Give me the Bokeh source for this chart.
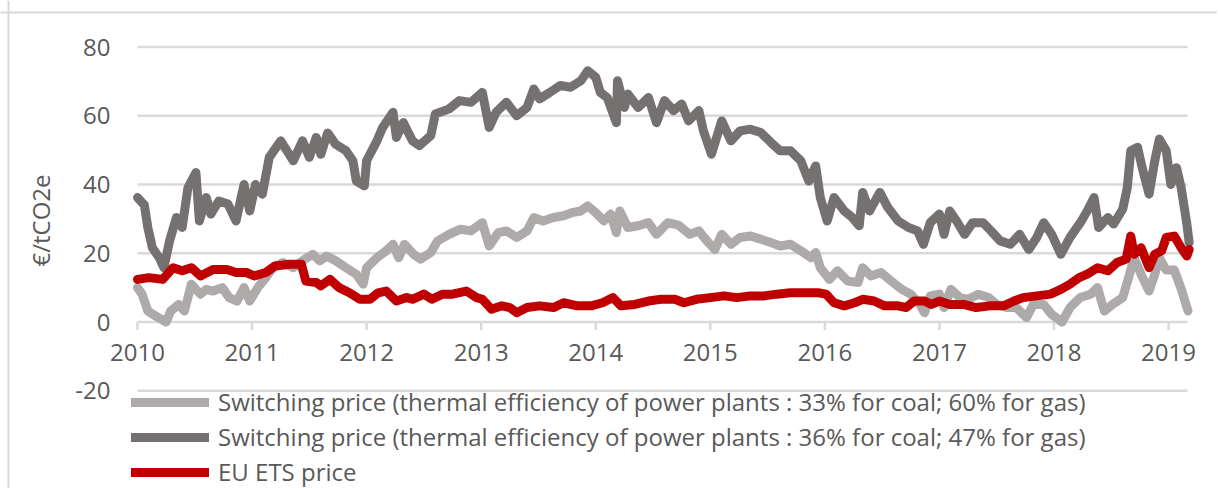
import math
from bokeh.plotting import figure
from bokeh.models import ColumnDataSource, Span, Legend, LegendItem, Range1d
from bokeh.core.properties import value
from bokeh.embed import file_html
from bokeh.resources import INLINE

# ---------------- data ----------------
light_x = [2010.00, 2010.04, 2010.09, 2010.16, 2010.25, 2010.29, 2010.36, 2010.41, 2010.47, 2010.51,
           2010.55, 2010.60, 2010.66, 2010.74, 2010.80, 2010.87, 2010.93, 2010.98, 2011.05, 2011.12,
           2011.18, 2011.27, 2011.36, 2011.44, 2011.53, 2011.59, 2011.65, 2011.73, 2011.82, 2011.91,
           2011.97, 2012.00, 2012.09, 2012.17, 2012.23, 2012.28, 2012.33, 2012.41, 2012.47, 2012.56,
           2012.62, 2012.72, 2012.82, 2012.91, 2013.01, 2013.07, 2013.15, 2013.22, 2013.31, 2013.40,
           2013.46, 2013.54, 2013.63, 2013.72, 2013.79, 2013.87, 2013.93, 2014.00, 2014.07, 2014.13,
           2014.18, 2014.21, 2014.28, 2014.37, 2014.46, 2014.53, 2014.63, 2014.72, 2014.82, 2014.90,
           2014.97, 2015.04, 2015.10, 2015.18, 2015.26, 2015.35, 2015.44, 2015.53, 2015.61, 2015.70,
           2015.79, 2015.88, 2015.92, 2015.96, 2016.04, 2016.11, 2016.20, 2016.29, 2016.33, 2016.40,
           2016.49, 2016.58, 2016.67, 2016.75, 2016.83, 2016.87, 2016.92, 2017.00, 2017.04, 2017.10,
           2017.18, 2017.25, 2017.34, 2017.43, 2017.50, 2017.59, 2017.67, 2017.76, 2017.82, 2017.91,
           2017.98, 2018.07, 2018.14, 2018.23, 2018.32, 2018.38, 2018.44, 2018.51, 2018.60, 2018.66,
           2018.70, 2018.76, 2018.83, 2018.88, 2018.92, 2018.98, 2019.05, 2019.11, 2019.17]
light_y = [10, 8.1, 3.2, 1.7, 0, 3.2, 5.1, 3.2, 11, 9.5,
           8.1, 9.5, 9, 10, 7.1, 6.1, 10, 6.1, 10, 12.9,
           15.8, 17.3, 15.8, 17.8, 19.7, 17.8, 19.2, 17.8, 15.8, 13.9,
           11, 15.8, 18.7, 20.7, 22.6, 18.7, 22.6, 19.7, 18.3, 20.2,
           23.6, 25.5, 27, 26.5, 28.9, 22.1, 26, 26.5, 24.6, 26.5,
           30.4, 29.4, 30.4, 30.9, 31.8, 32.3, 33.8, 31.8, 29.4, 31.4,
           26, 32.3, 27.5, 28, 28.9, 25.5, 28.9, 28.2, 25.5, 26.5,
           23.6, 21.1, 25.5, 22.6, 24.6, 25, 24.1, 23.1, 22.1, 22.6,
           20.7, 18.7, 20.2, 15.8, 12.4, 14.9, 11.9, 11.5, 15.8, 13.4,
           14.4, 11.9, 9.5, 8.1, 5.1, 2.7, 7.6, 8.1, 4.2, 9.5,
           7.1, 6.6, 8.1, 7.1, 5.1, 4.2, 4.2, 1.3, 5.1, 5.1,
           2.2, 0, 4.2, 7.1, 8.1, 10, 3.2, 5.1, 7.1, 13.9,
           18.7, 13.9, 9, 13.9, 18.7, 15.1, 15.1, 9.7, 3.2]

dark_x = [2010.00, 2010.06, 2010.09, 2010.13, 2010.19, 2010.23, 2010.28, 2010.34, 2010.39, 2010.44,
          2010.51, 2010.54, 2010.60, 2010.64, 2010.71, 2010.79, 2010.86, 2010.93, 2010.98, 2011.03,
          2011.09, 2011.15, 2011.25, 2011.36, 2011.44, 2011.50, 2011.56, 2011.60, 2011.66, 2011.73,
          2011.82, 2011.88, 2011.91, 2011.98, 2012.00, 2012.09, 2012.14, 2012.23, 2012.26, 2012.32,
          2012.40, 2012.46, 2012.56, 2012.60, 2012.72, 2012.81, 2012.91, 2013.01, 2013.07, 2013.13,
          2013.22, 2013.31, 2013.40, 2013.46, 2013.51, 2013.60, 2013.69, 2013.78, 2013.87, 2013.93,
          2014.00, 2014.04, 2014.10, 2014.18, 2014.19, 2014.25, 2014.28, 2014.37, 2014.46, 2014.53,
          2014.60, 2014.68, 2014.75, 2014.81, 2014.90, 2014.94, 2015.01, 2015.10, 2015.18, 2015.26,
          2015.35, 2015.44, 2015.53, 2015.61, 2015.70, 2015.79, 2015.86, 2015.92, 2015.96, 2016.02,
          2016.08, 2016.17, 2016.24, 2016.30, 2016.33, 2016.39, 2016.48, 2016.55, 2016.64, 2016.73,
          2016.81, 2016.86, 2016.92, 2017.00, 2017.04, 2017.09, 2017.15, 2017.22, 2017.29, 2017.38,
          2017.45, 2017.53, 2017.62, 2017.70, 2017.78, 2017.85, 2017.91, 2017.98, 2018.06, 2018.14,
          2018.23, 2018.29, 2018.35, 2018.39, 2018.47, 2018.52, 2018.60, 2018.64, 2018.67, 2018.73,
          2018.77, 2018.83, 2018.88, 2018.92, 2018.98, 2019.02, 2019.07, 2019.11, 2019.16, 2019.18]
dark_y = [36.2, 34, 27.5, 21.6, 18.7, 15.8, 23.6, 30.4, 27.5, 39,
          43.5, 29.4, 36.2, 31.4, 35.2, 34.3, 29.4, 40, 32.3, 40,
          37.2, 47.9, 52.7, 46.9, 52.7, 47.9, 53.7, 48.8, 55, 51.7,
          49.8, 46.9, 41, 39.6, 46.9, 52.7, 56.6, 61, 53.7, 58,
          52.7, 51.3, 54.2, 60.5, 62, 64.4, 63.9, 66.8, 56.6, 61,
          63.9, 60, 62.4, 67.8, 64.9, 66.8, 68.8, 68.3, 70.2, 73.1,
          71.2, 66.8, 65.3, 58, 70.2, 62.4, 66.3, 62.4, 65.3, 58,
          64.4, 61.5, 63.4, 58.5, 61.5, 55.6, 48.8, 58.5, 52.7, 55.6,
          56.1, 55.1, 52.2, 49.8, 49.8, 46.9, 41, 45.4, 36.2, 29.4,
          36.2, 32.3, 30.4, 28, 37.7, 32.3, 37.7, 33.3, 29.4, 27.5,
          26.5, 22.6, 28.9, 31.4, 25.5, 32.3, 29.4, 25.5, 28.9, 28.9,
          26.5, 23.6, 22.6, 25.5, 21.1, 24.6, 28.9, 25.5, 19.7, 24.6,
          28.9, 32.3, 36.2, 27.5, 30.4, 28.5, 32.8, 39.1, 49.8, 50.8,
          44.9, 37.2, 46.9, 53.2, 49.8, 40, 44.9, 39.1, 28.5, 23.1]

ets_x = [2010.00, 2010.10, 2010.22, 2010.31, 2010.39, 2010.47, 2010.55, 2010.66, 2010.78, 2010.86,
         2010.95, 2011.02, 2011.12, 2011.20, 2011.33, 2011.43, 2011.47, 2011.56, 2011.60, 2011.68,
         2011.76, 2011.85, 2011.94, 2012.03, 2012.10, 2012.17, 2012.26, 2012.35, 2012.40, 2012.50,
         2012.57, 2012.66, 2012.75, 2012.87, 2012.96, 2013.01, 2013.09, 2013.18, 2013.25, 2013.31,
         2013.40, 2013.51, 2013.63, 2013.72, 2013.84, 2013.96, 2014.06, 2014.15, 2014.22, 2014.34,
         2014.46, 2014.57, 2014.69, 2014.77, 2014.88, 2015.00, 2015.12, 2015.23, 2015.35, 2015.47,
         2015.58, 2015.70, 2015.82, 2015.94, 2016.01, 2016.08, 2016.17, 2016.26, 2016.33, 2016.43,
         2016.52, 2016.64, 2016.71, 2016.78, 2016.87, 2016.93, 2017.00, 2017.09, 2017.21, 2017.32,
         2017.44, 2017.56, 2017.65, 2017.73, 2017.85, 2017.97, 2018.06, 2018.14, 2018.22, 2018.29,
         2018.38, 2018.47, 2018.55, 2018.63, 2018.67, 2018.70, 2018.76, 2018.83, 2018.88, 2018.94,
         2018.98, 2019.05, 2019.11, 2019.16, 2019.18]
ets_y = [12.4, 12.9, 12.4, 15.8, 14.9, 15.8, 13.4, 15.3, 15.3, 14.4,
         14.4, 13.4, 14.4, 16.3, 16.8, 16.8, 11.9, 11.5, 10.5, 12.4,
         10, 8.5, 6.6, 6.6, 8.5, 9, 6.1, 7.1, 6.6, 8.1,
         6.6, 8.1, 8.1, 9, 7.1, 6.6, 3.7, 4.7, 4.2, 2.7,
         4.2, 4.7, 4.2, 5.6, 4.7, 4.7, 5.6, 7.1, 4.7, 5.1,
         6.1, 6.6, 6.6, 5.6, 6.6, 7.1, 7.6, 7.1, 7.6, 7.6,
         8.1, 8.5, 8.5, 8.5, 8.1, 5.6, 4.7, 5.6, 6.6, 6.1,
         4.7, 4.7, 4.2, 6.1, 6.1, 5.1, 6.1, 5.1, 5.1, 4.2,
         4.7, 4.7, 6.1, 7.1, 7.6, 8.1, 9.5, 11, 12.9, 13.9,
         15.8, 14.9, 17.3, 18.3, 25, 19.7, 21.6, 15.8, 19.7, 20.7,
         24.6, 25, 21.6, 19.2, 21.1]

year_ticks = [2010, 2011, 2012, 2013, 2014, 2015, 2016, 2017, 2018, 2019]
year_labels = ["2010", "2011", "2012", "2013", "2014", "2015", "2016", "2017", "2018", "2019"]
y_ticks = [-20, 0, 20, 40, 60, 80]
y_tick_labels = ["-20", "0", "20", "40", "60", "80"]

series_labels = [
    "Switching price (thermal efficiency of power plants : 33% for coal; 60% for gas)",
    "Switching price (thermal efficiency of power plants : 36% for coal; 47% for gas)",
    "EU ETS price",
]
y_title = "€/tCO2e"

# ---------------- styles / layout ----------------
FONT = "Open Sans"
TXT = "#595959"
GRID = "#d9d9d9"
C_LIGHT = "#AEAAAA"
C_DARK = "#767171"
C_RED = "#C00000"

W, H = 1217, 488
PX_PER_YEAR = 114.56      # horizontal scale (pixels per year)
PX_PER_UNIT = 3.4375      # vertical scale (pixels per EUR)
X0_PX, Y0_PX = 137, 321.5  # canvas pixel of (2010, 0)

x_start = 2010 - X0_PX / PX_PER_YEAR
x_end = 2010 + (W - X0_PX) / PX_PER_YEAR
y_end = Y0_PX / PX_PER_UNIT
y_start = -(H - Y0_PX) / PX_PER_UNIT

def dx(px):
    return px / PX_PER_YEAR

def dy(px):
    return px / PX_PER_UNIT

p = figure(width=W, height=H, output_backend="svg", toolbar_location=None,
           x_range=Range1d(x_start, x_end), y_range=Range1d(y_start, y_end),
           x_axis_location=None, y_axis_location=None, min_border=0)
p.outline_line_color = None
p.background_fill_color = "white"
p.border_fill_color = "white"
p.grid.visible = False

# outer chart-area border (top and left edges)
p.add_layout(Span(location=y_end - dy(12), dimension="width", line_color=GRID, line_width=2))
p.add_layout(Span(location=x_start + dx(8), dimension="height", line_color=GRID, line_width=2))

# horizontal gridlines (including the category axis line at 0)
x_grid_end = 2019.166
grid_src = ColumnDataSource(dict(y=y_ticks, x0=[year_ticks[0]] * len(y_ticks), x1=[x_grid_end] * len(y_ticks),
                                 lx=[year_ticks[0] - dx(27)] * len(y_ticks), lab=y_tick_labels))
p.segment(x0="x0", y0="y", x1="x1", y1="y", source=grid_src, line_color=GRID, line_width=2.5)
p.text(x="lx", y="y", text="lab", source=grid_src, text_font=value(FONT), text_font_size="24px",
       text_color=TXT, text_align="right", text_baseline="middle")

# category ticks and labels at y = 0
tick_src = ColumnDataSource(dict(x=year_ticks, y0=[0] * len(year_ticks), y1=[-dy(8)] * len(year_ticks),
                                 ly=[-dy(30.5)] * len(year_ticks), lab=year_labels))
p.segment(x0="x", y0="y0", x1="x", y1="y1", source=tick_src, line_color=GRID, line_width=2.5)
p.text(x="x", y="ly", text="lab", source=tick_src, text_font=value(FONT), text_font_size="24px",
       text_color=TXT, text_align="center", text_baseline="middle")

# y title
p.text(x=[year_ticks[0] - dx(97)], y=[dy(101.5)], text=[y_title], angle=math.pi / 2,
       text_font=value(FONT), text_font_size="24px", text_color=TXT,
       text_align="center", text_baseline="middle")

r_light = p.line(light_x, light_y, line_color=C_LIGHT, line_width=9, line_join="round", line_cap="round")
r_dark = p.line(dark_x, dark_y, line_color=C_DARK, line_width=9, line_join="round", line_cap="round")
r_red = p.line(ets_x, ets_y, line_color=C_RED, line_width=9, line_join="round", line_cap="round")

legend = Legend(items=[LegendItem(label=series_labels[0], renderers=[r_light]),
                       LegendItem(label=series_labels[1], renderers=[r_dark]),
                       LegendItem(label=series_labels[2], renderers=[r_red])],
                location=(131, 0), orientation="vertical",
                glyph_width=78, glyph_height=20, label_height=20, spacing=2,
                padding=0, margin=0, label_standoff=9,
                label_text_font=FONT, label_text_font_size="24px", label_text_color=TXT,
                border_line_color=None, background_fill_alpha=0)
p.add_layout(legend, "center")

open("out.html", "w").write(file_html(p, INLINE))
